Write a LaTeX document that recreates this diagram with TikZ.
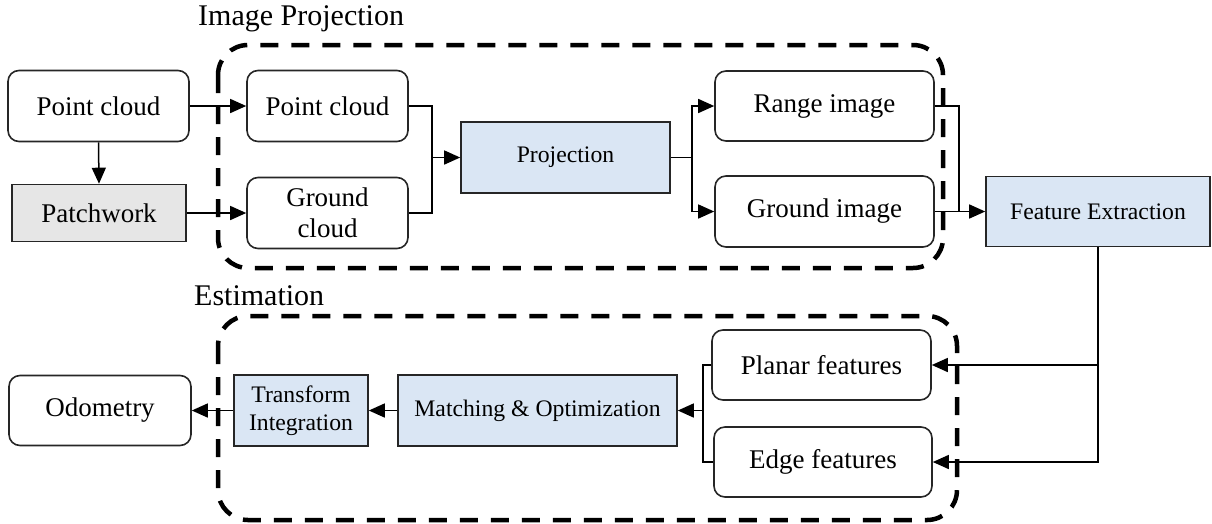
\documentclass[tikz,border=0pt]{standalone}
\usepackage{fontspec}
\setmainfont{Liberation Serif}
\usetikzlibrary{arrows.meta}
\definecolor{boxblue}{RGB}{218,230,244}
\definecolor{boxgray}{RGB}{230,230,230}
\tikzset{
  base/.style={draw=black!85, line width=1.6pt, inner sep=0pt, align=center, text=black},
  rbox/.style={base, rounded corners=11pt, fill=white, font=\fontsize{27}{31}\selectfont},
  bbox/.style={base, fill=boxblue, font=\fontsize{23.7}{28}\selectfont},
  gbox/.style={base, fill=boxgray, font=\fontsize{27}{31}\selectfont},
  conn/.style={line width=1.5pt, draw=black},
  arr/.style={conn, -{Triangle[length=16pt,width=14pt]}},
  group/.style={line width=4.5pt, dash pattern=on 18pt off 13pt, rounded corners=30pt},
  grouplabel/.style={anchor=west, inner sep=0pt, font=\fontsize{30}{34}\selectfont}
}
\begin{document}
\begin{tikzpicture}[x=1pt,y=-1pt]
\useasboundingbox (0,0) rectangle (1212,523);
% groups
\draw[group] (218,45) rectangle (943,268);
\draw[group] (218,316) rectangle (957,520);
\node[grouplabel] (lblproj) at (198,19) {Image Projection};
\node[grouplabel] (lblest) at (194,296) {Estimation};
% nodes
\node[rbox, minimum width=181pt, minimum height=71pt] (pc1) at (98.5,106) {Point cloud};
\node[gbox, minimum width=174pt, minimum height=57pt] (patch) at (99,213) {Patchwork};
\node[rbox, minimum width=161pt, minimum height=71pt] (pc2) at (327.5,106) {Point cloud};
\node[rbox, minimum width=161pt, minimum height=71pt] (gc) at (327.5,213) {Ground\\cloud};
\node[bbox, minimum width=209pt, minimum height=71pt] (proj) at (565.5,157.5) {Projection};
\node[rbox, minimum width=219pt, minimum height=70pt] (ri) at (824.5,106) {Range image};
\node[rbox, minimum width=219pt, minimum height=71pt] (gi) at (824.5,211.5) {Ground image};
\node[bbox, minimum width=224pt, minimum height=70pt] (fe) at (1098,211.5) {Feature Extraction};
\node[rbox, minimum width=219pt, minimum height=70pt] (pf) at (821.5,365) {Planar features};
\node[rbox, minimum width=218pt, minimum height=70pt] (ef) at (823,462) {Edge features};
\node[bbox, minimum width=279pt, minimum height=71pt] (mo) at (537.5,410.5) {Matching \& Optimization};
\node[bbox, minimum width=134pt, minimum height=71pt] (ti) at (301,410.5) {Transform\\Integration};
\node[rbox, minimum width=182pt, minimum height=70pt] (odo) at (100,410.5) {Odometry};
% junction coordinates
\coordinate (m1) at (432,157.5);
\coordinate (s1) at (692,157.5);
\coordinate (m2) at (959,211.5);
\coordinate (m3) at (703,410.5);
% connectors
\draw[arr] (pc1.south) -- (patch.north);
\draw[arr] (pc1.east) -- (pc2.west);
\draw[arr] (patch.east) -- (gc.west |- patch.east);
\draw[conn] (pc2.east) -| (m1);
\draw[conn] (gc.east) -| (m1);
\draw[arr] (m1) -- (proj.west);
\draw[conn] (proj.east) -- (s1);
\draw[arr] (s1) |- (ri.west);
\draw[arr] (s1) |- (gi.west);
\draw[conn] (ri.east) -| (m2);
\draw[arr] (gi.east) -- (fe.west);
\draw[arr] (fe.south) |- (pf.east);
\draw[arr] (fe.south) |- (ef.east);
\draw[conn] (pf.west) -| (m3);
\draw[conn] (ef.west) -| (m3);
\draw[arr] (m3) -- (mo.east);
\draw[arr] (mo.west) -- (ti.east);
\draw[arr] (ti.west) -- (odo.east);
\end{tikzpicture}
\end{document}
